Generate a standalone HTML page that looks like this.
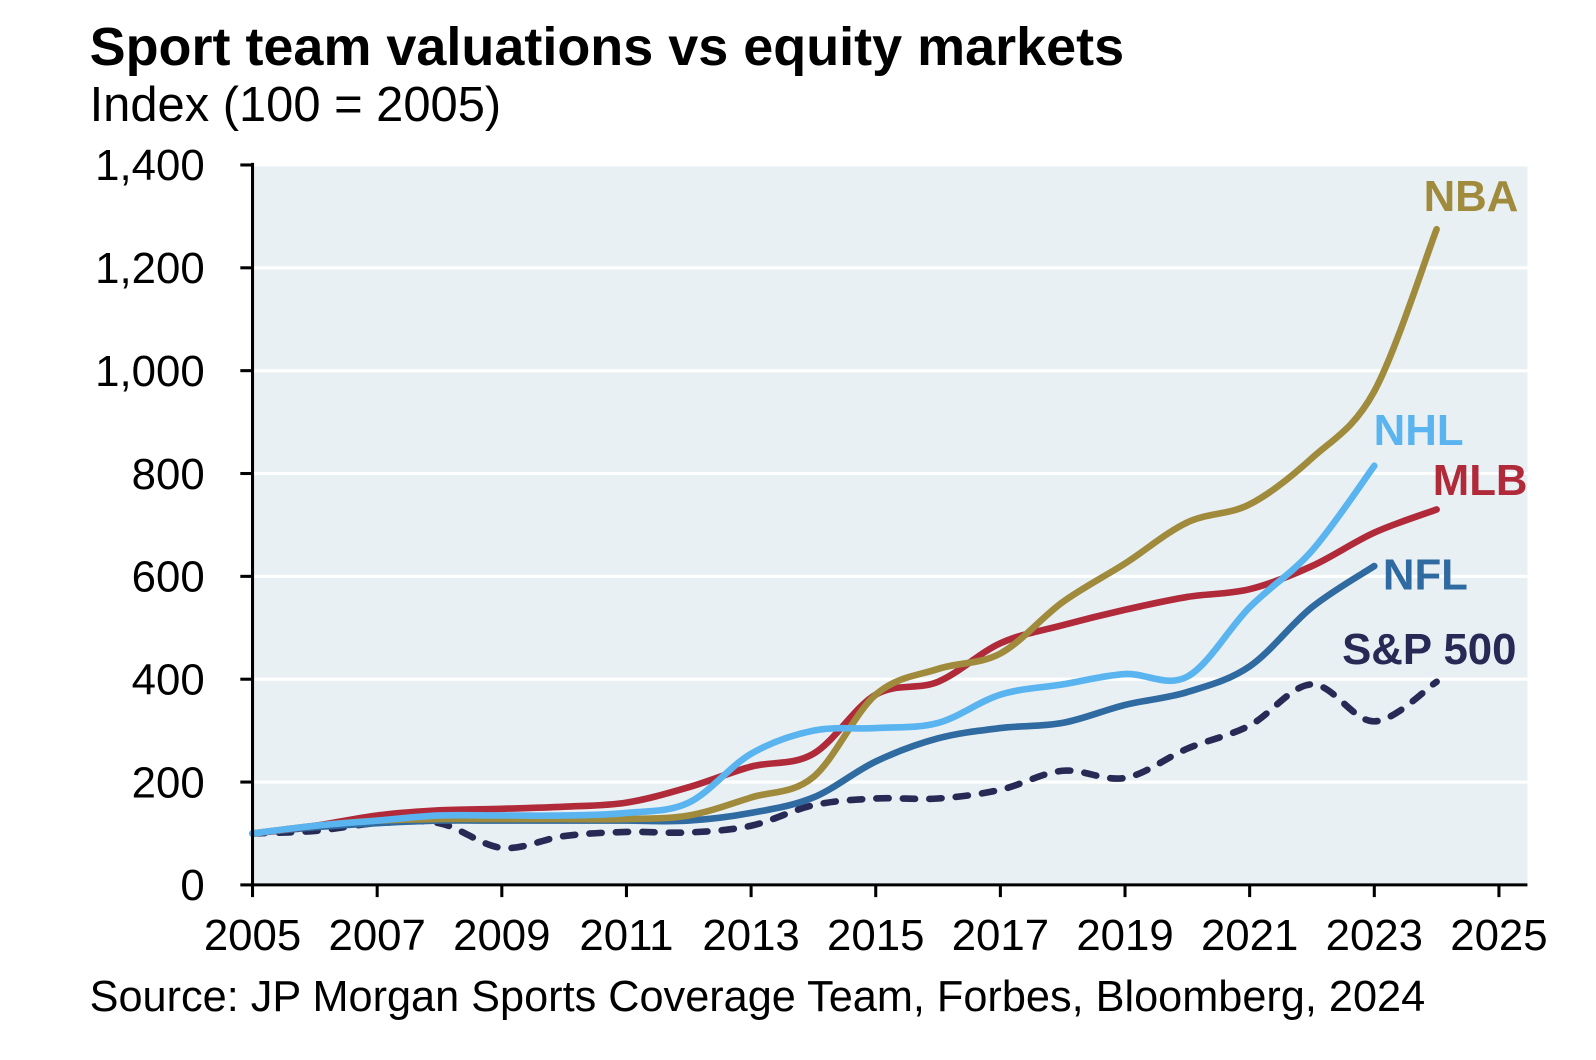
<!DOCTYPE html>
<html><head><meta charset="utf-8"><style>
body{margin:0;background:#fff;}
svg{display:block;font-family:"Liberation Sans",Arial,sans-serif;}
</style></head><body>
<svg width="1596" height="1060">
<g transform="scale(1.0183)">
<text x="88" y="64" font-size="53" font-weight="bold" fill="#000">Sport team valuations vs equity markets</text>
<text x="88" y="119" font-size="48" fill="#000">Index (100 = 2005)</text>
<rect x="248" y="162" width="1252" height="707" fill="#e9f0f4"/>
<g id="grid"></g><g id="series"></g><g id="axes"></g>
<text x="88" y="993" font-size="42.5" fill="#000">Source: JP Morgan Sports Coverage Team, Forbes, Bloomberg, 2024</text>
</g>
</svg>
<script>
const years=[2005,2006,2007,2008,2009,2010,2011,2012,2013,2014,2015,2016,2017,2018,2019,2020,2021,2022,2023,2024];
const nba=[100,115,125,128,128,128,128,135,170,210,370,420,450,550,625,705,740,830,960,1275];
const nhl=[100,115,125,135,135,135,140,160,255,300,305,315,370,390,410,405,540,650,815];
const mlb=[100,115,135,145,148,152,160,190,230,255,370,395,470,505,535,560,575,620,685,730];
const nfl=[100,112,120,125,125,125,125,125,140,170,240,285,305,315,350,375,425,540,620];
const sp=[100,105,120,120,72,95,103,102,115,155,168,168,185,222,208,265,310,390,318,395];
const yTicks=[0,200,400,600,800,1000,1200,1400];
const xTicks=[2005,2007,2009,2011,2013,2015,2017,2019,2021,2023,2025];
const X=y=>248+(y-2005)*61.2;
const Y=v=>869-v*(707/1400);
const NS="http://www.w3.org/2000/svg";
function mk(t,a,p){const e=document.createElementNS(NS,t);for(const k in a)e.setAttribute(k,a[k]);p.appendChild(e);return e;}
const grid=document.getElementById('grid'),axes=document.getElementById('axes'),ser=document.getElementById('series');
yTicks.forEach(v=>{
 if(v>0){const g=mk('line',{x1:248,x2:1500,y1:Y(v),y2:Y(v),stroke:'#fff','stroke-width':3},grid);
 
 }
 const t=mk('text',{x:201,y:Y(v)+15,'font-size':43,'text-anchor':'end'},axes);t.textContent=v.toLocaleString('en-US');
 
 
 const tk=mk('line',{x1:236,x2:248,y1:Y(v),y2:Y(v),stroke:'#000','stroke-width':3},axes);
 
 
});
const ya=mk('line',{x1:248,x2:248,y1:160,y2:870,stroke:'#000','stroke-width':3},axes);


const xa=mk('line',{x1:247,x2:1500,y1:869,y2:869,stroke:'#000','stroke-width':3},axes);


xTicks.forEach(y=>{
 const tk=mk('line',{x1:X(y),x2:X(y),y1:869,y2:881,stroke:'#000','stroke-width':3},axes);
 
 
 const t=mk('text',{x:X(y),y:933,'font-size':43,'text-anchor':'middle'},axes);t.textContent=y;
 
 
});
function path(vals){
 const p=vals.map((v,i)=>[X(years[i]),Y(v)]);
 let d='M'+p[0][0]+','+p[0][1];
 for(let i=0;i<p.length-1;i++){
  const p0=p[i-1]||p[i],p1=p[i],p2=p[i+1],p3=p[i+2]||p2,k=1/6;
  d+=' C'+(p1[0]+(p2[0]-p0[0])*k)+','+(p1[1]+(p2[1]-p0[1])*k)+' '+(p2[0]-(p3[0]-p1[0])*k)+','+(p2[1]-(p3[1]-p1[1])*k)+' '+p2[0]+','+p2[1];
 }
 return d;
}
const series=[
 ['sp-500-line',sp,'#262a55','12 14','S&P 500',1318,652],
 ['nfl-line',nfl,'#2f6aa0',null,'NFL',1358,579],
 ['mlb-line',mlb,'#b02a3a',null,'MLB',1407,486],
 ['nba-line',nba,'#a08a3c',null,'NBA',1398,207],
 ['nhl-line',nhl,'#5ab4f0',null,'NHL',1349,437]
];
series.forEach(s=>{
 const a={d:path(s[1]),fill:'none',stroke:s[2],'stroke-width':6.5,'stroke-linecap':'round'};
 if(s[3])a['stroke-dasharray']=s[3];
 const e=mk('path',a,ser);
 
 
 const t=mk('text',{x:s[5],y:s[6],'font-size':43,'font-weight':'bold',fill:s[2]},ser);t.textContent=s[4];
 
 
});
</script>
</body></html>
